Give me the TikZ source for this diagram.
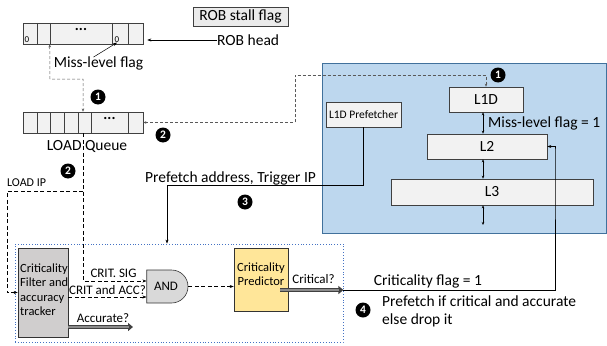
\documentclass[tikz,border=0pt]{standalone}
\usepackage{fontspec}
\setmainfont{Carlito}
\usetikzlibrary{arrows.meta,shapes.gates.logic.US,calc}
\definecolor{cellfill}{HTML}{F2F2F2}
\definecolor{bluefill}{HTML}{BDD7EE}
\definecolor{blueedge}{HTML}{41719C}
\definecolor{filtfill}{HTML}{D0CECE}
\definecolor{predfill}{HTML}{FFE699}
\definecolor{dotedge}{HTML}{4472C4}
\begin{document}
\begin{tikzpicture}[x=1pt,y=-1pt,
  every node/.style={inner sep=0pt, font=\fontsize{15.5}{18}\selectfont},
  cell/.style={draw=black!75, fill=cellfill, line width=0.6pt},
  cache/.style={draw=black!75, fill=cellfill, line width=0.6pt},
  small/.style={font=\fontsize{12.5}{14.5}\selectfont},
  badge/.style={circle, fill=black, text=white, minimum size=15pt, inner sep=0pt, font=\fontsize{11.5}{12}\selectfont\bfseries},
  arr/.style={-{Stealth[length=4pt,width=3pt]}, line width=0.5pt},
  darr/.style={{Stealth[length=3pt,width=2.5pt]}-{Stealth[length=3pt,width=2.5pt]}, line width=0.5pt},
  gdsh/.style={draw=black!65, dash pattern=on 3pt off 2pt, line width=0.6pt},
  bdsh/.style={draw=black, dash pattern=on 4pt off 2.5pt, line width=0.7pt},
  thickarr/.style={line width=4.2pt, black!75, -{Triangle[length=5pt,width=8pt]}},
  thickin/.style={line width=2.2pt, black!45, shorten >=4pt}]
\useasboundingbox (0,0) rectangle (607,345);

% blue cache region
\node[draw=blueedge, fill=bluefill, line width=0.8pt, minimum width=284pt, minimum height=170pt] (blue) at (464,148) {};
\node[cache, minimum width=74pt, minimum height=25pt] (l1d) at (486,99.5) {L1D};
\node[cache, minimum width=120pt, minimum height=25pt] (l2) at (487,146.5) {L2};
\node[cache, minimum width=202pt, minimum height=26pt] (l3) at (492,192) {L3};
\coordinate (below) at (483,225);
\draw[darr] (l1d.south -| below) -- (l2.north -| below);
\draw[darr] (l2.south -| below) -- (l3.north -| below);
\draw[darr] (l3.south -| below) -- (below);
\node[anchor=west] (mlf1) at (488,123) {Miss-level flag = 1};
\node[cache, font=\fontsize{11.5}{13}\selectfont, minimum width=75pt, minimum height=25pt] (pf) at (363.5,114.5) {L1D Prefetcher};
\node[badge] (b1r) at (498,75) {1};

% ROB
\node[cell, minimum width=120pt, minimum height=21pt] (rob) at (83,33.5) {};
\foreach \xx in {37,50,112,128} \draw[black!75, line width=0.6pt] (\xx,23) -- (\xx,44);
\node[font=\fontsize{15}{16}\selectfont\bfseries] (robdots) at (81,29.5) {...};
\node[font=\fontsize{9}{10}\selectfont] (z1) at (27,39.5) {0};
\node[font=\fontsize{9}{10}\selectfont] (z2) at (117,39.5) {0};
\node[draw=black!75, fill=black!8, line width=0.6pt, minimum width=95pt, minimum height=19pt] (stall) at (240.5,16.5) {ROB stall flag};
\node[anchor=west] (robhead) at (217,40) {ROB head};
\draw[arr] (robhead.west) -- ([xshift=4pt]rob.east |- robhead.west);
\node (mlf) at (98.5,63) {Miss-level flag};
\draw[arr] ([xshift=-5pt,yshift=-1pt]mlf.north) -- (z2.south);

% LOAD queue
\node[cell, minimum width=120pt, minimum height=21pt] (lq) at (83,122.5) {};
\foreach \xx in {37,50,64,78,91,128} \draw[black!75, line width=0.6pt] (\xx,112) -- (\xx,133);
\node[font=\fontsize{15}{16}\selectfont\bfseries] (lqdots) at (109.5,118.5) {...};
\node (lqlabel) at (87,146) {LOAD Queue};
\node[badge] (b1) at (98,97) {1};
\node[badge] (b2r) at (163,135) {2};
\node[badge] (b2l) at (68,171) {2};
\node[anchor=west, font=\fontsize{12}{13}\selectfont] (loadip) at (7,183) {LOAD IP};

% dashed ROB <-> LOAD queue
\draw[gdsh, darr] ([xshift=27pt]rob.south west) -- (50,79) -| (lq.north);
% dashed L1D <-> LOAD queue
\draw[gdsh, darr] (lq.east) -| (295,75) -| (l1d.north);

% bottom region
\node[draw=dotedge, dotted, line width=0.8pt, minimum width=328pt, minimum height=98pt] (dbox) at (179,293) {};
\node[draw=black!80, fill=filtfill, line width=0.6pt, minimum width=50pt, minimum height=89pt] (filter) at (43,292.5) {};
\node[align=left, anchor=west, font=\fontsize{12.5}{14.5}\selectfont] (filtertext) at (20,289.5) {Criticality\\Filter and\\accuracy\\tracker};
\node[and gate US, draw=black!80, fill=black!15, line width=0.6pt, minimum width=38pt, minimum height=33pt, font=\fontsize{13}{14}\selectfont] (and) at (166,286.5) {AND};
\node[draw=black!80, fill=predfill, line width=0.6pt, minimum width=54pt, minimum height=63pt] (pred) at (261,279.5) {};
\node[align=center, font=\fontsize{12.5}{13.5}\selectfont] (predtext) at (261,274) {Criticality\\Predictor};

\coordinate (split) at (83,191);
\draw[bdsh, arr] (lq.south) |- (and.west |- 0,281);
\draw[bdsh, arr] (split) -- (7,191) |- (filter.west);
\draw[bdsh, arr] (filter.east |- 0,297) -- (and.west |- 0,297);
\draw[bdsh, arr] (and.east) -- (pred.west |- and.east);
\node[font=\fontsize{13}{14}\selectfont] (critsig) at (113.5,273) {CRIT. SIG};
\node[font=\fontsize{13}{14}\selectfont] (critacc) at (107.5,290) {CRIT and ACC?};

% thick arrows
\coordinate (accend) at (133,327);
\draw[thickarr] (filter.east |- accend) -- (accend);
\draw[thickin] (filter.east |- accend) -- (accend);
\node[font=\fontsize{13}{14}\selectfont] (acclbl) at (103,318) {Accurate?};
\coordinate (critend) at (dbox.east |- 0,290);
\draw[thickarr] ([xshift=-8pt]pred.east |- critend) -- (critend);
\draw[thickin] ([xshift=-8pt]pred.east |- critend) -- (critend);
\node[font=\fontsize{13}{14}\selectfont] (critlbl) at (313.5,279) {Critical?};

% prefetcher path
\node[anchor=west] (pfaddr) at (145,178) {Prefetch address, Trigger IP};
\draw[arr, line width=0.7pt] (pf.south) |- (167,185) -- (dbox.north -| 167,0);
\node[badge] (b3) at (245,202) {3};

% criticality flag path
\draw[arr, line width=0.7pt] (critend) -| (555,150) |- (l2.east);
\node (cflag) at (428,281) {Criticality flag = 1};
\node[badge] (b4) at (363,310) {4};
\node[anchor=west, align=left, font=\fontsize{15.5}{18}\selectfont] (pfif) at (382,311) {Prefetch if critical and accurate\\else drop it};
\end{tikzpicture}
\end{document}
